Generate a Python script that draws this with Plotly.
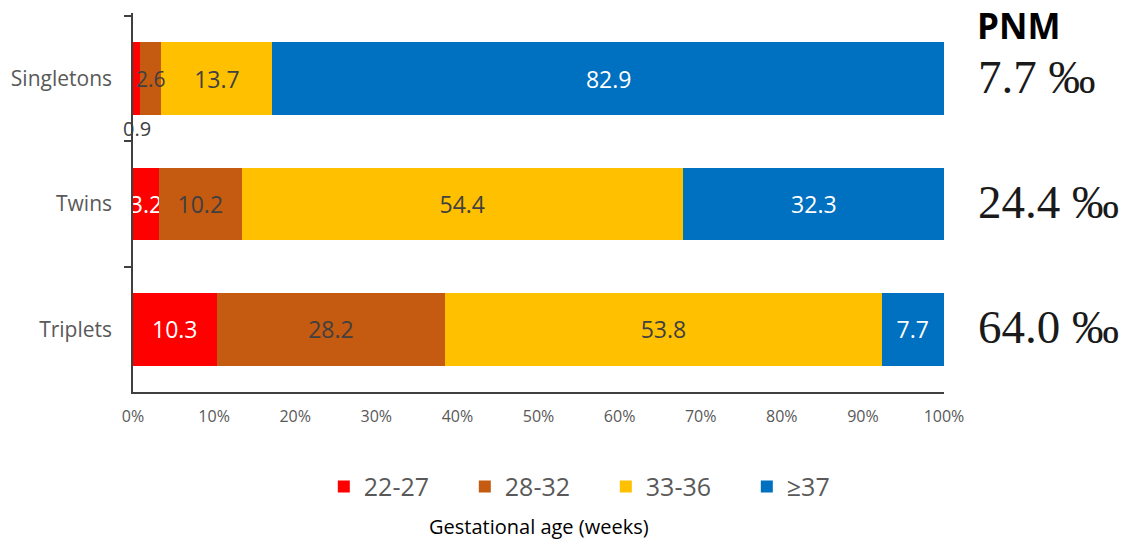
import plotly.graph_objects as go

# Distribution of gestational age at birth by plurality (percent of births)
groups = ["Singletons", "Twins", "Triplets"]
age_bands = ["22-27", "28-32", "33-36", "≥37"]
pct_22_27 = [0.9, 3.2, 10.3]
pct_28_32 = [2.6, 10.2, 28.2]
pct_33_36 = [13.7, 54.4, 53.8]
pct_37_plus = [82.9, 32.3, 7.7]
pnm_permille = [7.7, 24.4, 64.0]

series = [pct_22_27, pct_28_32, pct_33_36, pct_37_plus]
colors = ["#FF0000", "#C55A11", "#FFC000", "#0070C0"]
label_colors = [
    ["#404040", "#FFFFFF", "#FFFFFF"],
    ["#404040", "#404040", "#404040"],
    ["#404040", "#404040", "#404040"],
    ["#FFFFFF", "#FFFFFF", "#FFFFFF"],
]

FONT = "Open Sans"
LABEL_SIZE = 23
fig = go.Figure()

offset = [0.0] * len(groups)
for band, vals, col, lcol in zip(age_bands, series, colors, label_colors):
    # labels of narrow segments are drawn as annotations so they sit on top
    positions = ["none" if v < 3 else "inside" for v in vals]
    fig.add_trace(go.Bar(
        name=band,
        y=groups,
        x=vals,
        orientation="h",
        marker=dict(color=col, line=dict(width=0)),
        texttemplate="%{x:.1f}",
        textposition=positions,
        insidetextanchor="middle",
        textangle=0,
        constraintext="none",
        textfont=dict(family=FONT, size=LABEL_SIZE, color=lcol),
        hoverinfo="skip",
    ))
    for i, (g, v) in enumerate(zip(groups, vals)):
        if v < 3:
            below = v < 1
            fig.add_annotation(
                x=offset[i] + v / 2, y=g, xref="x", yref="y",
                text=f"{v:.1f}", showarrow=False,
                yshift=-50 if below else 0,
                font=dict(family=FONT, size=20 if below else 21, color=lcol[i]),
            )
        offset[i] += v

# perinatal mortality column
fig.add_annotation(
    x=1.0382, y=0.968, xref="paper", yref="paper", xanchor="left", yanchor="middle",
    text="<b>PNM</b>", showarrow=False,
    font=dict(family=FONT, size=35, color="#000000"),
)
for g, v in zip(groups, pnm_permille):
    fig.add_annotation(
        x=1.0395, y=g, xref="paper", yref="y", xanchor="left", yanchor="middle",
        text=f"{v:.1f} ‰", showarrow=False, yshift=2,
        font=dict(family="Liberation Serif", size=47, color="#1a1a1a"),
    )

fig.add_annotation(
    x=0.5, y=-0.356, xref="paper", yref="paper", xanchor="center", yanchor="middle",
    text="Gestational age (weeks)", showarrow=False,
    font=dict(family=FONT, size=20, color="#000000"),
)

fig.update_layout(
    barmode="stack",
    bargap=0.42,
    width=1125,
    height=542,
    margin=dict(l=133, r=181, t=13, b=150),
    plot_bgcolor="#FFFFFF",
    paper_bgcolor="#FFFFFF",
    font=dict(family=FONT, color="#595959"),
    legend=dict(
        orientation="h",
        x=0.583, xanchor="center",
        y=-0.25, yanchor="middle",
        font=dict(family=FONT, size=25, color="#595959"),
        entrywidth=96,
        traceorder="normal",
    ),
    xaxis=dict(
        range=[0, 100],
        tickvals=[0, 10, 20, 30, 40, 50, 60, 70, 80, 90, 100],
        ticktext=[f"{t}%" for t in range(0, 101, 10)],
        showgrid=False,
        zeroline=False,
        showline=True,
        linecolor="#404040",
        linewidth=1.5,
        ticks="",
        ticklabelstandoff=9,
        tickfont=dict(family=FONT, size=16, color="#595959"),
        fixedrange=True,
    ),
    yaxis=dict(
        autorange="reversed",
        type="category",
        tickson="boundaries",
        ticks="outside",
        ticklen=7,
        tickwidth=1.5,
        tickcolor="#404040",
        showline=True,
        linecolor="#404040",
        linewidth=1.5,
        showgrid=False,
        zeroline=False,
        ticklabelstandoff=15,
        tickfont=dict(family=FONT, size=21, color="#595959"),
        fixedrange=True,
    ),
)

fig.write_html("out.html")
